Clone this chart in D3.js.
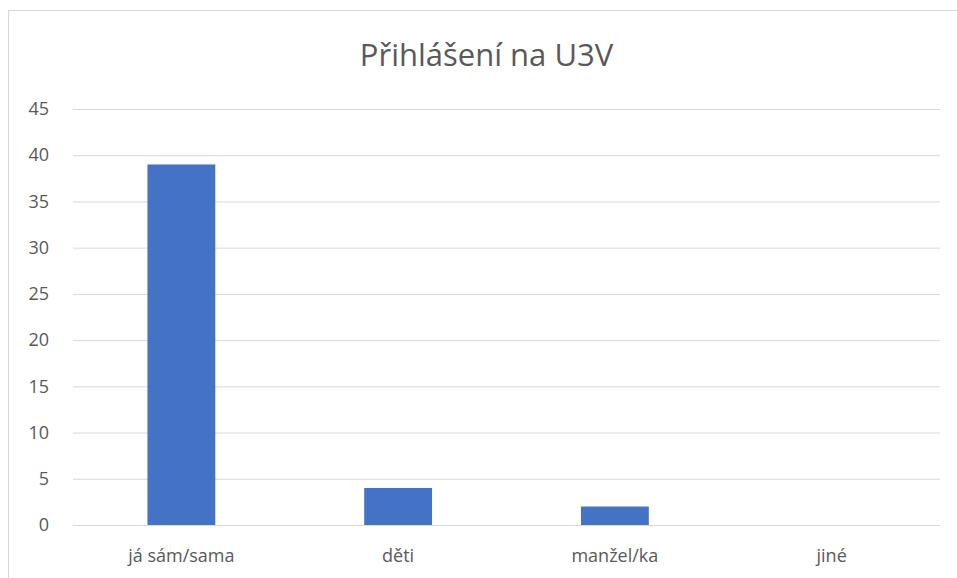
<!DOCTYPE html>
<html>
<head>
<meta charset="utf-8">
<script src="https://cdn.jsdelivr.net/npm/d3@7"></script>
<style>
  body { margin: 0; background: #fff; }
  svg { display: block; }
</style>
</head>
<body>
<div id="container"></div>
<script>
const width = 957;
const height = 578;

const categories = ['já sám/sama', 'děti', 'manžel/ka', 'jiné'];
const values = [39, 4, 2, 0];
const yTicks = [0, 5, 10, 15, 20, 25, 30, 35, 40, 45];
const title = 'Přihlášení na U3V';

const margin = { top: 109, right: 17, bottom: 53, left: 73 };

const xScale = d3.scaleBand()
  .domain(categories)
  .range([margin.left, width - margin.right])
  .paddingInner(0.687)
  .paddingOuter(0.3435);

const yScale = d3.scaleLinear()
  .domain([0, 45])
  .range([height - margin.bottom, margin.top]);

const svg = d3.select('#container')
  .append('svg')
  .attr('width', width)
  .attr('height', height)
  .attr('font-family', '"Open Sans", sans-serif');

// chart frame
svg.append('rect')
  .attr('x', 8.5)
  .attr('y', 10.5)
  .attr('width', width + 10)
  .attr('height', height + 10)
  .attr('fill', 'white')
  .attr('stroke', '#d9d9d9')
  .attr('stroke-width', 1);

// gridlines
svg.append('g')
  .attr('transform', `translate(${margin.left},0)`)
  .call(d3.axisLeft(yScale).tickValues(yTicks).tickSize(-(width - margin.left - margin.right)).tickFormat(''))
  .call(el => el.select('.domain').remove())
  .call(el => el.selectAll('.tick line').attr('stroke', '#d9d9d9'));

// y labels
svg.append('g')
  .attr('transform', `translate(${margin.left - 24},0)`)
  .call(d3.axisLeft(yScale).tickValues(yTicks).tickSize(0).tickPadding(0))
  .call(el => el.select('.domain').remove())
  .call(el => el.selectAll('.tick text')
    .attr('fill', '#595959')
    .attr('font-size', 18)
    .attr('font-family', '"Open Sans", sans-serif'));

// bars
svg.append('g')
  .selectAll('rect')
  .data(values)
  .join('rect')
  .attr('x', (d, i) => xScale(categories[i]))
  .attr('y', d => yScale(d))
  .attr('width', xScale.bandwidth())
  .attr('height', d => yScale(0) - yScale(d))
  .attr('fill', '#4472c4');

// x labels
svg.append('g')
  .attr('transform', `translate(0,${height - margin.bottom})`)
  .call(d3.axisBottom(xScale).tickSize(0).tickPadding(24))
  .call(el => el.select('.domain').remove())
  .call(el => el.selectAll('.tick text')
    .attr('fill', '#595959')
    .attr('font-size', 18)
    .attr('font-family', '"Open Sans", sans-serif'));

// title
svg.append('text')
  .attr('x', 486.5)
  .attr('y', 66)
  .attr('text-anchor', 'middle')
  .attr('fill', '#595959')
  .attr('font-size', 31)
  .text(title);
</script>
</body>
</html>
